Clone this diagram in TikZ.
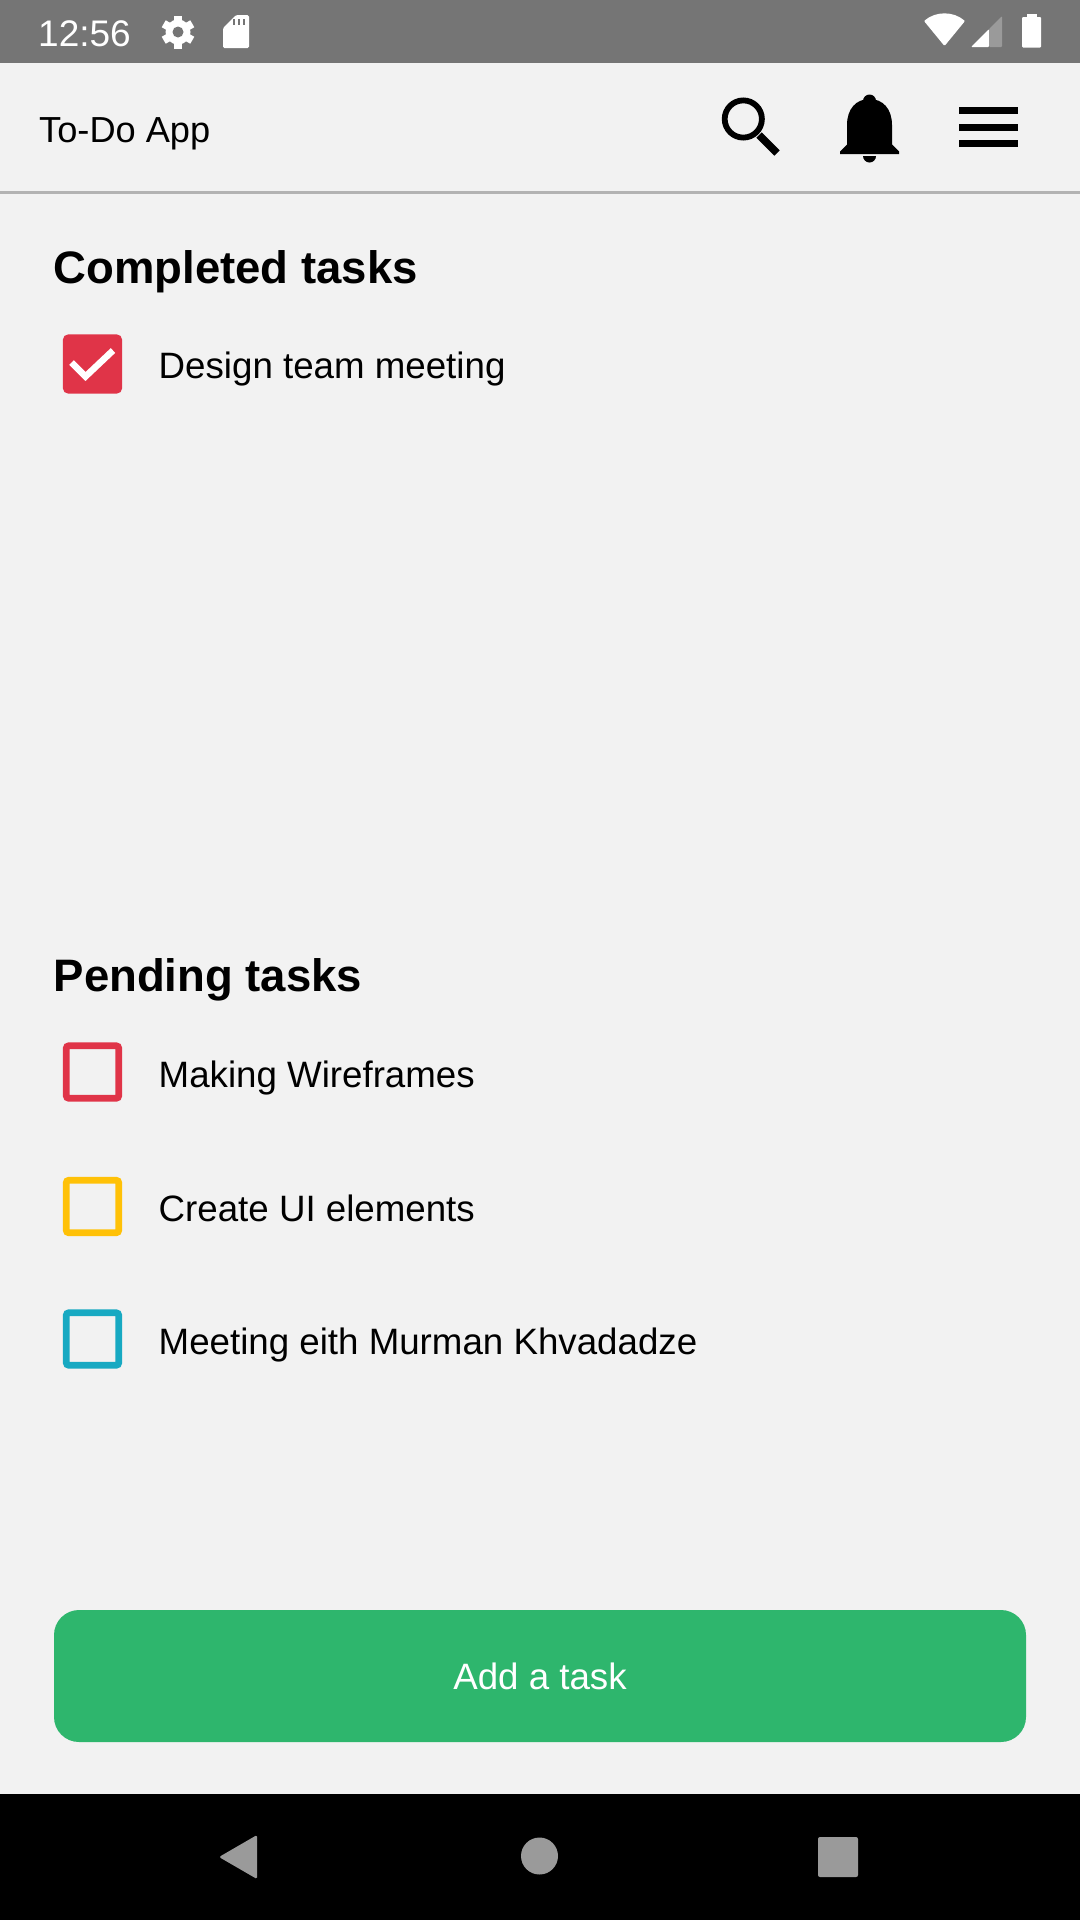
\documentclass[tikz,border=0pt]{standalone}
\usepackage{fontspec}
\setmainfont{Liberation Sans}
\definecolor{screenbg}{HTML}{F2F2F2}
\definecolor{statusbg}{HTML}{757575}
\definecolor{rulegray}{HTML}{B3B3B3}
\definecolor{navgray}{HTML}{9A9A9A}
\definecolor{taskred}{HTML}{E03448}
\definecolor{taskyellow}{HTML}{FFC107}
\definecolor{taskteal}{HTML}{17A9C2}
\definecolor{addgreen}{HTML}{2EB66D}
\tikzset{
  checkbox/.style={draw=#1, line width=6.8pt, rounded corners=2.5pt, minimum size=52.4pt, inner sep=0pt},
  tasktext/.style={anchor=base west, inner sep=0pt, font=\fontsize{36.7}{40}\selectfont},
  heading/.style={anchor=base west, inner sep=0pt, font=\fontsize{45.5}{50}\selectfont\bfseries},
}
\begin{document}
\begin{tikzpicture}[x=1pt,y=-1pt]
    \useasboundingbox (0,0) rectangle (1080,1920);
    \fill[screenbg] (0,0) rectangle (1080,1920);

    % Status bar
    \fill[statusbg] (0,0) rectangle (1080,63);
    \node[anchor=base west, inner sep=0pt, text=white, font=\fontsize{37}{40}\selectfont] (clock) at (38,46) {12:56};
    \fill[white] (178,32) circle (12.5pt);
    \foreach \a in {30,90,...,330} {
      \draw[white, line width=8pt] (178,32) -- ++(\a:16.5);
    }
    \fill[statusbg] (178,32) circle (5.5pt);
    \fill[white, rounded corners=1.5pt] (223,28) -- (236,15) -- (249,15) -- (249,48) -- (223,48) -- cycle;
    \foreach \x in {234,239,244} {
      \fill[statusbg] (\x-1.2,19) rectangle (\x+1.2,25);
    }
    \fill[white, rounded corners=1pt] (924,21) .. controls (936,11) and (953,11) .. (965,21) -- (944.5,46) -- cycle;
    \fill[white, rounded corners=1pt] (971,47) -- (989,29) -- (989,47) -- cycle;
    \fill[navgray, rounded corners=1pt] (989,47) -- (989,29) -- (1002,16) -- (1002,47) -- cycle;
    \fill[white, rounded corners=1pt] (1022,17) rectangle (1041,47.5);
    \fill[white] (1027,14) rectangle (1037,18);

    % App bar
    \node[anchor=base west, inner sep=0pt, font=\fontsize{36.2}{40}\selectfont] (title) at (39,142) {To-Do App};
    \draw[line width=5.8pt] (743.3,119) circle (18.6pt);
    \draw[line width=7.5pt] (759,135) -- (777,153);
    \fill (840,154) -- (840,151.5) -- (847,144.5) -- (847,125)
      .. controls (847,109) and (856,99) .. (869.5,99)
      .. controls (883,99) and (892,109) .. (892,125)
      -- (892,144.5) -- (899,151.5) -- (899,154) -- cycle;
    \fill (869.5,101) circle (6.5pt);
    \fill (863,156) arc[start angle=180, end angle=360, radius=6.5pt];
    \foreach \y in {110.8,127.3,143.8} {
      \draw[line width=7pt] (959,\y) -- (1018,\y);
    }
    \fill[rulegray] (0,191) rectangle (1080,194);

    % Completed tasks
    \node[heading] (completed) at (53.5,283) {Completed tasks};
    \node[checkbox=taskred, fill=taskred] (done1) at (92.5,364) {};
    \draw[white, line width=6.5pt] (71.5,362.5) -- (85.5,376.5) -- (113,350.5);
    \node[tasktext] (donetext1) at (158.5,378) {Design team meeting};

    % Pending tasks
    \node[heading] (pending) at (53.5,991) {Pending tasks};
    \foreach \n/\y/\col/\txt in {1/1072/taskred/Making Wireframes,
        2/1206.5/taskyellow/Create UI elements,
        3/1339/taskteal/Meeting eith Murman Khvadadze} {
      \node[checkbox=\col] (box\n) at (92.5,\y) {};
      \node[tasktext] (text\n) at (158.5,\y+15) {\txt};
    }

    % Add button
    \node[fill=addgreen, rounded corners=25pt, minimum width=972pt, minimum height=132pt, inner sep=0pt] (add) at (540,1676) {};
    \node[anchor=base, inner sep=0pt, text=white, font=\fontsize{36.7}{40}\selectfont] (addtext) at (540,1689) {Add a task};

    % Navigation bar
    \fill[black] (0,1794) rectangle (1080,1920);
    \fill[navgray, rounded corners=1.5pt] (219,1857) -- (257,1835) -- (257,1879) -- cycle;
    \fill[navgray] (539.5,1856) circle (18.5pt);
    \fill[navgray, rounded corners=2pt] (818,1837) rectangle (858,1877);

\end{tikzpicture}
\end{document}
